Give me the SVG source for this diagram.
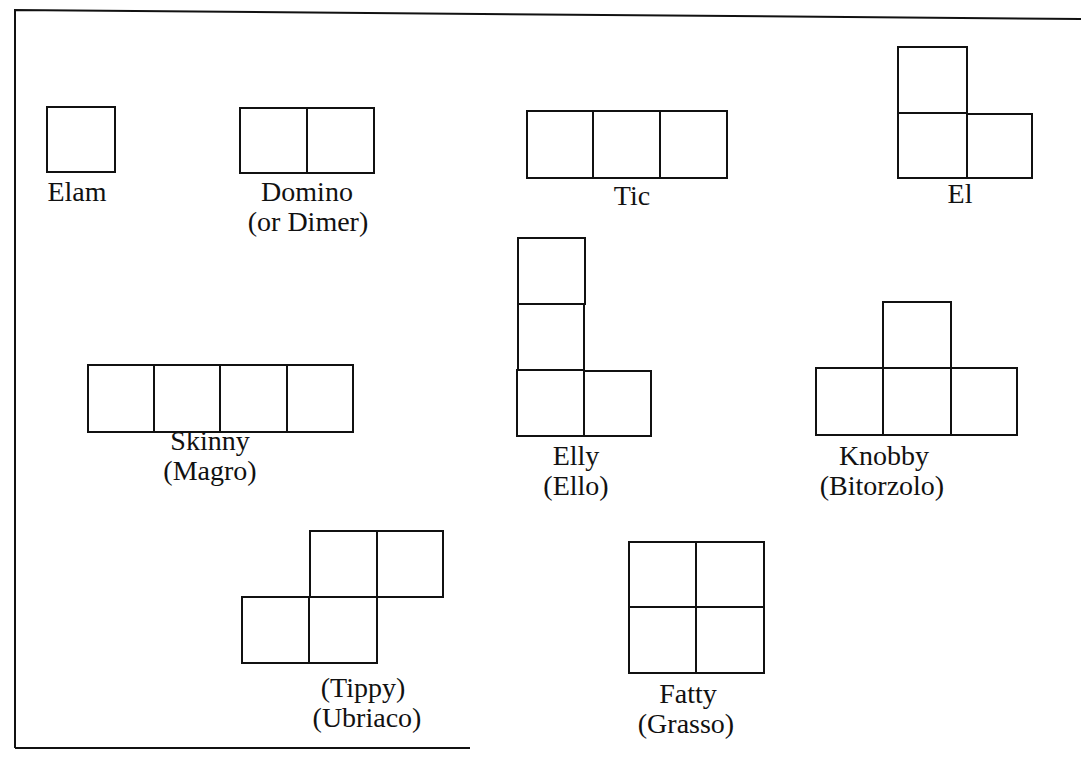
<svg xmlns="http://www.w3.org/2000/svg" width="1081" height="762" viewBox="0 0 1081 762">
  <style>
    .cell { fill: none; stroke: #111; stroke-width: 2; }
    .frame { fill: none; stroke: #111; stroke-width: 2; }
    .lbl { font-family: 'Liberation Serif', 'DejaVu Serif', serif; font-size: 28px; fill: #111; text-anchor: middle; }
  </style>
  <rect width="1081" height="762" fill="#fff"/>

  <!-- page frame -->
  <g id="frame">
    <path class="frame" d="M15,748 L15,10 L1081,19"/>
    <path class="frame" d="M15,748 L470,748"/>
  </g>

  <g font-family="Liberation Serif, DejaVu Serif, serif">
  <!-- monomino -->
  <g id="elam">
    <rect class="cell" x="47" y="107" width="68" height="65"/>
    <text class="lbl" x="77" y="201">Elam</text>
  </g>

  <!-- domino -->
  <g id="domino">
    <rect class="cell" x="240" y="108" width="67" height="65"/>
    <rect class="cell" x="307" y="108" width="67" height="65"/>
    <text class="lbl" x="307" y="201">Domino</text>
    <text class="lbl" x="308" y="231">(or Dimer)</text>
  </g>

  <!-- straight tromino -->
  <g id="tic">
    <rect class="cell" x="527" y="111" width="66" height="67"/>
    <rect class="cell" x="593" y="111" width="67" height="67"/>
    <rect class="cell" x="660" y="111" width="67" height="67"/>
    <text class="lbl" x="632" y="205">Tic</text>
  </g>

  <!-- L tromino -->
  <g id="el">
    <rect class="cell" x="898" y="47" width="69" height="66"/>
    <rect class="cell" x="898" y="113" width="69" height="65"/>
    <rect class="cell" x="967" y="114" width="65" height="64"/>
    <text class="lbl" x="960" y="203">El</text>
  </g>

  <!-- I tetromino -->
  <g id="skinny">
    <rect class="cell" x="88" y="365" width="66" height="67"/>
    <rect class="cell" x="154" y="365" width="66" height="67"/>
    <rect class="cell" x="220" y="365" width="67" height="67"/>
    <rect class="cell" x="287" y="365" width="66" height="67"/>
    <text class="lbl" x="210" y="450">Skinny</text>
    <text class="lbl" x="210" y="480">(Magro)</text>
  </g>

  <!-- L tetromino -->
  <g id="elly">
    <rect class="cell" x="518" y="238" width="67" height="66"/>
    <rect class="cell" x="518" y="304" width="66" height="66"/>
    <rect class="cell" x="517" y="370" width="67" height="66"/>
    <rect class="cell" x="584" y="371" width="67" height="65"/>
    <text class="lbl" x="576" y="465">Elly</text>
    <text class="lbl" x="576" y="495">(Ello)</text>
  </g>

  <!-- T tetromino -->
  <g id="knobby">
    <rect class="cell" x="883" y="302" width="68" height="66"/>
    <rect class="cell" x="816" y="368" width="67" height="67"/>
    <rect class="cell" x="883" y="368" width="68" height="67"/>
    <rect class="cell" x="951" y="368" width="66" height="67"/>
    <text class="lbl" x="884" y="465">Knobby</text>
    <text class="lbl" x="882" y="495">(Bitorzolo)</text>
  </g>

  <!-- S tetromino -->
  <g id="tippy">
    <rect class="cell" x="310" y="531" width="67" height="66"/>
    <rect class="cell" x="377" y="531" width="66" height="66"/>
    <rect class="cell" x="242" y="597" width="67" height="66"/>
    <rect class="cell" x="309" y="597" width="68" height="66"/>
    <text class="lbl" x="363" y="697">(Tippy)</text>
    <text class="lbl" x="367" y="727">(Ubriaco)</text>
  </g>

  <!-- square tetromino -->
  <g id="fatty">
    <rect class="cell" x="629" y="542" width="67" height="65"/>
    <rect class="cell" x="696" y="542" width="68" height="65"/>
    <rect class="cell" x="629" y="607" width="67" height="66"/>
    <rect class="cell" x="696" y="607" width="68" height="66"/>
    <text class="lbl" x="688" y="703">Fatty</text>
    <text class="lbl" x="686" y="733">(Grasso)</text>
  </g>
  </g>
</svg>
